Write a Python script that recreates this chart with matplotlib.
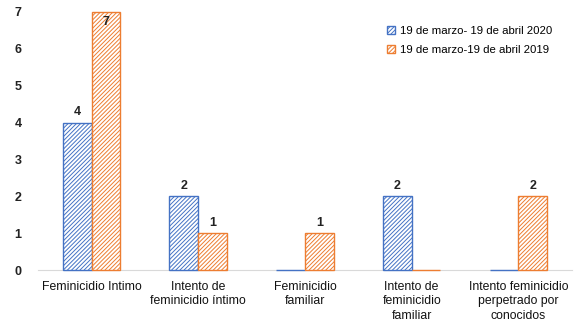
import numpy as np
import matplotlib
matplotlib.use("Agg")
import matplotlib.pyplot as plt

categories = [
    "Feminicidio Intimo",
    "Intento de\nfeminicidio íntimo",
    "Feminicidio\nfamiliar",
    "Intento de\nfeminicidio\nfamiliar",
    "Intento feminicidio\nperpetrado por\nconocidos",
]
values_2020 = [4, 2, 0, 2, 0]
values_2019 = [7, 1, 1, 0, 2]
labels_series = ["19 de marzo- 19 de abril 2020", "19 de marzo-19 de abril 2019"]

blue = "#4472C4"
orange = "#ED7D31"

plt.rcParams["font.family"] = ["Liberation Sans", "DejaVu Sans"]
plt.rcParams["hatch.linewidth"] = 0.7

fig = plt.figure(figsize=(5.87, 3.29), dpi=100)
ax = fig.add_axes([0.065, 0.179, 0.909, 0.785])

x = np.arange(len(categories))
w = 0.27
b1 = ax.bar(x - w / 2, values_2020, w, facecolor="white", edgecolor=blue,
            hatch="////////", linewidth=1.0, label=labels_series[0],
            zorder=3, clip_on=False)
b2 = ax.bar(x + w / 2, values_2019, w, facecolor="white", edgecolor=orange,
            hatch="////////", linewidth=1.0, label=labels_series[1],
            zorder=3, clip_on=False)

for rects, vals in ((b1, values_2020), (b2, values_2019)):
    for r, v in zip(rects, vals):
        if v == 0:
            continue
        cx = r.get_x() + r.get_width() / 2
        if v >= 7:
            ax.text(cx, v - 0.12, str(v), ha="center", va="top", zorder=4,
                    fontsize=9, fontweight="bold", color="#222222")
        else:
            ax.text(cx, v + 0.12, str(v), ha="center", va="bottom",
                    fontsize=9, fontweight="bold", color="#222222")

ax.set_xlim(-0.5, len(categories) - 0.5)
ax.set_ylim(0, 7)
ax.set_yticks(range(0, 8))
ax.set_xticks(x)
ax.set_xticklabels(categories, fontsize=8.8, color="#111111", linespacing=1.25)
for t in ax.get_yticklabels():
    t.set_fontweight("bold")
    t.set_fontsize(9)
    t.set_color("#222222")

for s in ["top", "right", "left"]:
    ax.spines[s].set_visible(False)
ax.spines["bottom"].set_color("#D9D9D9")
ax.spines["bottom"].set_zorder(1)
ax.tick_params(axis="both", length=0)
ax.tick_params(axis="y", pad=12)
ax.tick_params(axis="x", pad=8)

ax.legend(loc="upper left", bbox_to_anchor=(0.635, 0.985), frameon=False,
          fontsize=8.2, handlelength=0.7, handleheight=0.7, handletextpad=0.4,
          labelspacing=0.75)

plt.savefig("out.png", dpi=100)
